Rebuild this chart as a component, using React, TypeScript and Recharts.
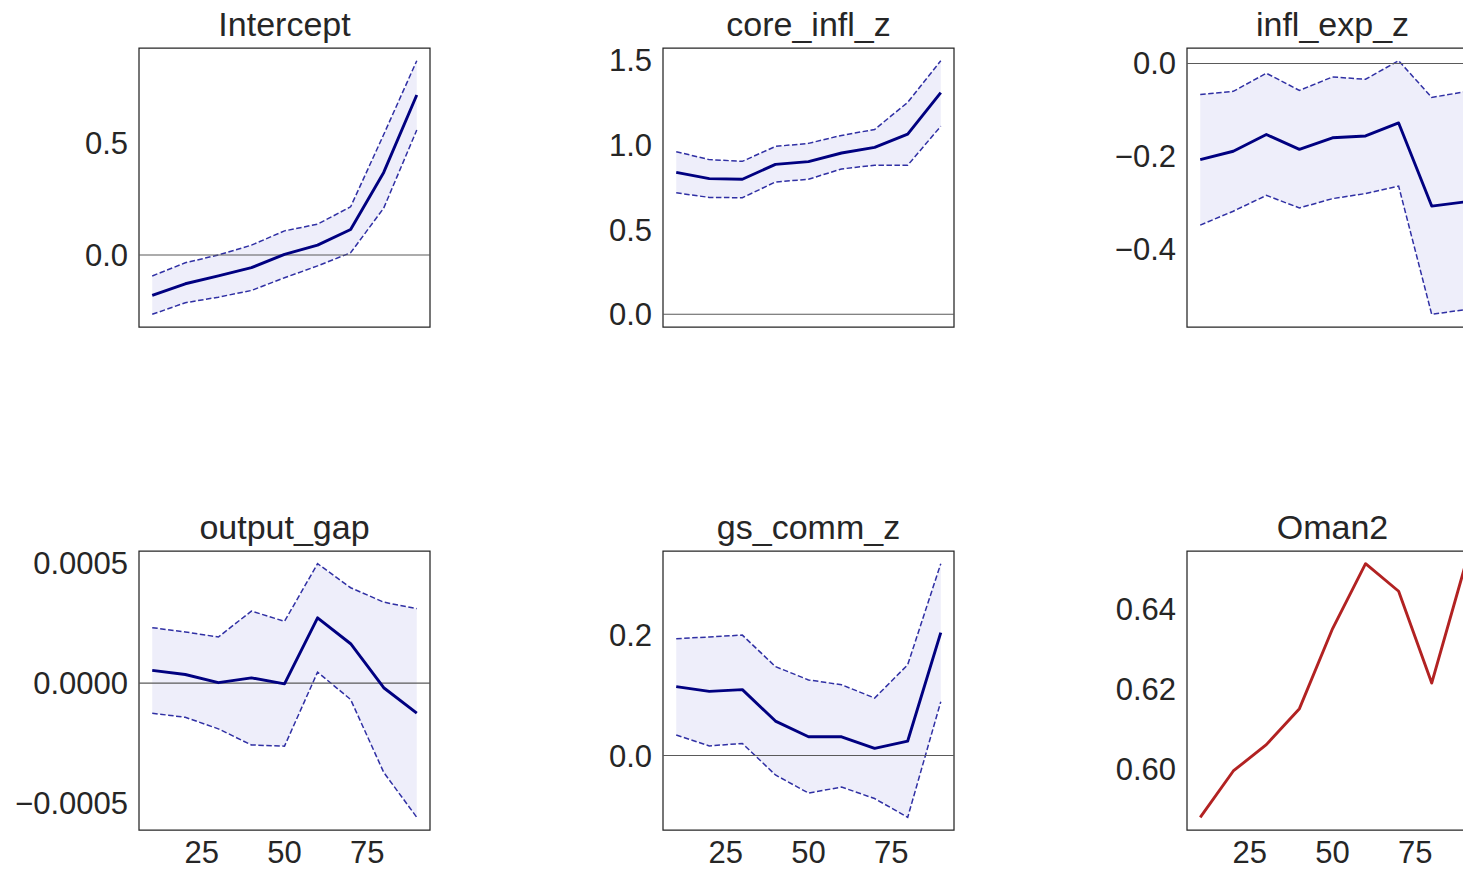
import React from "react";
import {
  ComposedChart,
  Line,
  Area,
  XAxis,
  YAxis,
  ReferenceLine,
  ReferenceArea,
} from "recharts";

// Quantile levels (in percent) at which each coefficient was estimated
const quantiles = [10, 20, 30, 40, 50, 60, 70, 80, 90];
const xTicks = [25, 50, 75];

// Intercept
const interceptCoef = [-0.181, -0.129, -0.094, -0.057, 0.003, 0.044, 0.114, 0.37, 0.717];
const interceptUpper = [-0.094, -0.035, 0.0, 0.044, 0.108, 0.138, 0.216, 0.54, 0.871];
const interceptLower = [-0.266, -0.214, -0.189, -0.159, -0.102, -0.049, 0.01, 0.21, 0.56];

// core_infl_z
const coreCoef = [0.838, 0.801, 0.797, 0.885, 0.901, 0.952, 0.985, 1.063, 1.308];
const coreUpper = [0.96, 0.913, 0.903, 0.991, 1.009, 1.056, 1.091, 1.251, 1.497];
const coreLower = [0.717, 0.69, 0.688, 0.781, 0.797, 0.858, 0.88, 0.88, 1.11];

// infl_exp_z
const expCoef = [-0.207, -0.189, -0.153, -0.185, -0.16, -0.156, -0.128, -0.307, -0.298];
const expUpper = [-0.067, -0.06, -0.021, -0.058, -0.029, -0.034, 0.006, -0.073, -0.061];
const expLower = [-0.348, -0.318, -0.284, -0.311, -0.291, -0.28, -0.264, -0.54, -0.53];

// output_gap
const gapCoef = [0.000053, 0.000036, 0.000002, 0.000022, -0.000003, 0.000272, 0.000164, -0.000019, -0.000125];
const gapUpper = [0.000231, 0.000213, 0.000192, 0.0003, 0.000257, 0.000497, 0.000397, 0.000337, 0.00031];
const gapLower = [-0.000125, -0.000142, -0.00019, -0.000257, -0.000262, 0.000046, -0.000068, -0.000371, -0.000558];

// gs_comm_z
const commCoef = [0.114, 0.106, 0.109, 0.057, 0.031, 0.031, 0.012, 0.024, 0.203];
const commUpper = [0.193, 0.196, 0.199, 0.147, 0.125, 0.117, 0.095, 0.15, 0.317];
const commLower = [0.034, 0.016, 0.02, -0.032, -0.062, -0.052, -0.071, -0.102, 0.089];

// Oman2
const omanCoef = [0.5878, 0.5994, 0.606, 0.615, 0.635, 0.6513, 0.6444, 0.6214, 0.6505];

// Tick labels on the value axes
const interceptTicks = [0.0, 0.5];
const coreTicks = [0.0, 0.5, 1.0, 1.5];
const expTicks = [-0.4, -0.2, 0.0];
const gapTicks = [-0.0005, 0.0, 0.0005];
const commTicks = [0.0, 0.2];
const omanTicks = [0.6, 0.62, 0.64];

const FONT = '"Liberation Sans", Arial, "DejaVu Sans", sans-serif';
const TEXT = "#262626";

type PanelProps = {
  title: string;
  coef: number[];
  lower?: number[];
  upper?: number[];
  yTicks: number[];
  decimals: number;
  showX: boolean;
  left: number;
  top: number;
  lineColor?: string;
};

const CHART_W = 440;
const CHART_H = 377;
const Y_AXIS_W = 139;
const TOP_M = 48;
const X_AXIS_H = 50;
const PLOT_W = CHART_W - Y_AXIS_W - 10;

function paddedDomain(values: number[], withZero: boolean): [number, number] {
  let lo = Math.min(...values);
  let hi = Math.max(...values);
  if (withZero) {
    lo = Math.min(lo, 0);
    hi = Math.max(hi, 0);
  }
  const pad = (hi - lo) * 0.05;
  return [lo - pad, hi + pad];
}

function fmt(decimals: number) {
  return (v: number) => v.toFixed(decimals).replace("-", "\u2212");
}

function Panel({ title, coef, lower, upper, yTicks, decimals, showX, left, top, lineColor }: PanelProps) {
  const band = !!(lower && upper);
  const rows = quantiles.map((q, i) => ({
    q,
    coef: coef[i],
    lo: band ? lower![i] : undefined,
    hi: band ? upper![i] : undefined,
    range: band ? [lower![i], upper![i]] : undefined,
  }));
  const all = band ? [...coef, ...lower!, ...upper!] : coef;
  const yDomain = paddedDomain(all, band);
  const xDomain: [number, number] = [6, 94];

  return (
    <div style={{ position: "absolute", left, top, width: CHART_W, height: CHART_H }}>
      <div
        style={{
          position: "absolute",
          left: Y_AXIS_W,
          width: PLOT_W,
          top: 7,
          textAlign: "center",
          fontFamily: FONT,
          fontSize: 34,
          lineHeight: "34px",
          color: TEXT,
          whiteSpace: "nowrap",
        }}
      >
        {title}
      </div>
      <ComposedChart
        width={CHART_W}
        height={CHART_H}
        data={rows}
        margin={{ top: TOP_M, right: 10, bottom: 0, left: 0 }}
      >
        <XAxis
          dataKey="q"
          type="number"
          domain={xDomain}
          ticks={xTicks}
          allowDataOverflow
          height={X_AXIS_H}
          axisLine={false}
          tickLine={false}
          tickSize={0}
          tickMargin={11}
          interval={0}
          tick={showX ? { fill: TEXT, fontSize: 31, fontFamily: FONT } : false}
        />
        <YAxis
          type="number"
          domain={yDomain}
          ticks={yTicks}
          allowDataOverflow
          width={Y_AXIS_W}
          axisLine={false}
          tickLine={false}
          tickSize={0}
          tickMargin={11}
          interval={0}
          tickFormatter={fmt(decimals)}
          tick={{ fill: TEXT, fontSize: 31, fontFamily: FONT }}
        />
        {band && (
          <Area
            dataKey="range"
            type="linear"
            fill="#eeeefa"
            fillOpacity={1}
            stroke="none"
            isAnimationActive={false}
            dot={false}
            activeDot={false}
          />
        )}
        {band && (
          <Line
            dataKey="hi"
            type="linear"
            stroke="#3030a4"
            strokeWidth={1.5}
            strokeDasharray="5.5 2.5"
            dot={false}
            activeDot={false}
            isAnimationActive={false}
          />
        )}
        {band && (
          <Line
            dataKey="lo"
            type="linear"
            stroke="#3030a4"
            strokeWidth={1.5}
            strokeDasharray="5.5 2.5"
            dot={false}
            activeDot={false}
            isAnimationActive={false}
          />
        )}
        {band && <ReferenceLine y={0} stroke="#5a5a5a" strokeWidth={1.1} />}
        <Line
          dataKey="coef"
          type="linear"
          stroke={lineColor ?? "#000080"}
          strokeWidth={2.9}
          strokeLinejoin="round"
          dot={false}
          activeDot={false}
          isAnimationActive={false}
        />
        <ReferenceArea
          x1={xDomain[0]}
          x2={xDomain[1]}
          y1={yDomain[0]}
          y2={yDomain[1]}
          fill="none"
          fillOpacity={0}
          stroke={TEXT}
          strokeWidth={1.25}
          ifOverflow="visible"
        />
      </ComposedChart>
    </div>
  );
}

export default function App() {
  const colX = [0, 524, 1048];
  const rowY = [0, 503];
  return (
    <div
      style={{
        position: "absolute",
        left: 0,
        top: 0,
        width: 1463,
        height: 869,
        overflow: "hidden",
        background: "#ffffff",
      }}
    >
      <Panel title="Intercept" coef={interceptCoef} lower={interceptLower} upper={interceptUpper}
        yTicks={interceptTicks} decimals={1} showX={false} left={colX[0]} top={rowY[0]} />
      <Panel title="core_infl_z" coef={coreCoef} lower={coreLower} upper={coreUpper}
        yTicks={coreTicks} decimals={1} showX={false} left={colX[1]} top={rowY[0]} />
      <Panel title="infl_exp_z" coef={expCoef} lower={expLower} upper={expUpper}
        yTicks={expTicks} decimals={1} showX={false} left={colX[2]} top={rowY[0]} />
      <Panel title="output_gap" coef={gapCoef} lower={gapLower} upper={gapUpper}
        yTicks={gapTicks} decimals={4} showX={true} left={colX[0]} top={rowY[1]} />
      <Panel title="gs_comm_z" coef={commCoef} lower={commLower} upper={commUpper}
        yTicks={commTicks} decimals={1} showX={true} left={colX[1]} top={rowY[1]} />
      <Panel title="Oman2" coef={omanCoef} yTicks={omanTicks} decimals={2} showX={true}
        left={colX[2]} top={rowY[1]} lineColor="#b22222" />
    </div>
  );
}
